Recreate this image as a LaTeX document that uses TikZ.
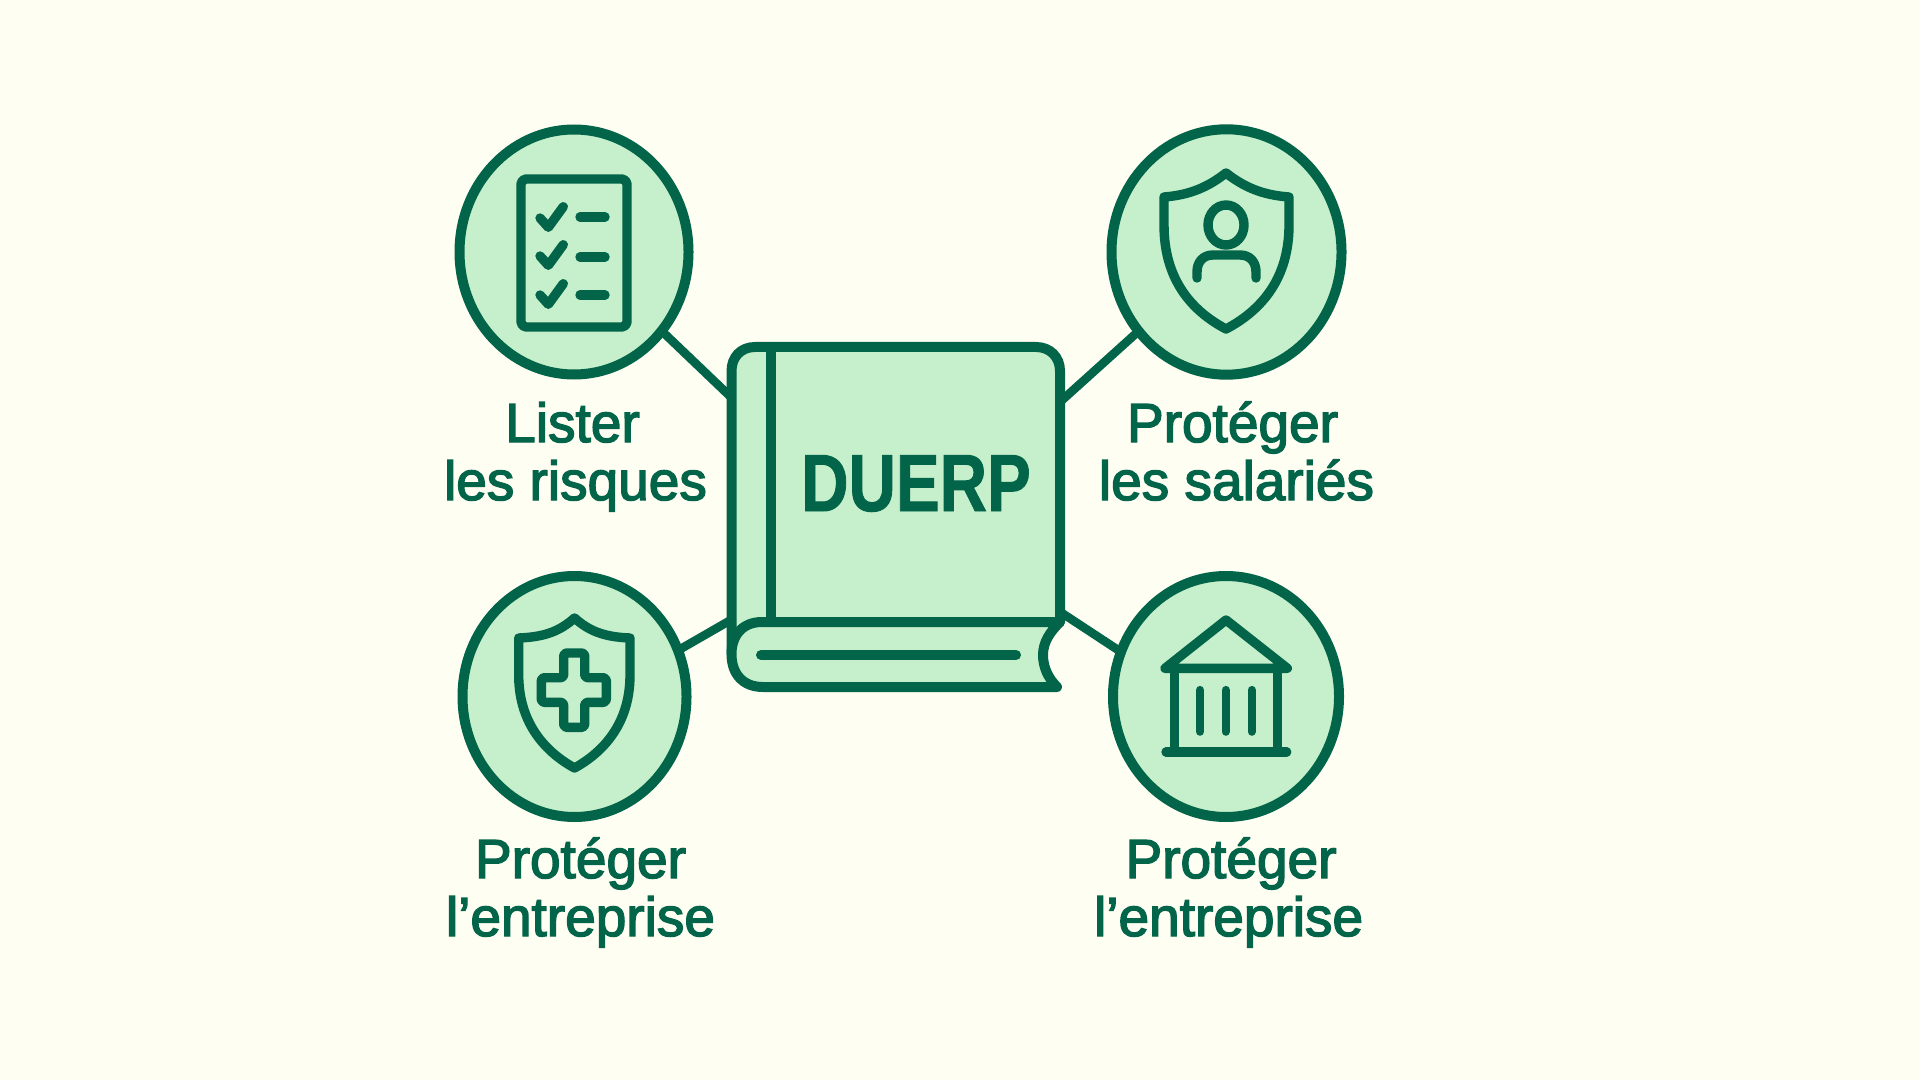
\documentclass[tikz,border=0pt]{standalone}
\usepackage{fontspec}
\usepackage{graphicx}
\usetikzlibrary{shapes.geometric,backgrounds}
\font\lablfont="Liberation Sans:embolden=2.6;mapping=tex-text" at 27.5pt
\font\titlefont="Liberation Sans Bold:embolden=1.2" at 40.5pt
\definecolor{ink}{RGB}{2,100,72}
\definecolor{leaf}{RGB}{198,239,203}
\definecolor{paper}{RGB}{255,254,243}
\tikzset{
  disc/.style={ellipse,draw=ink,fill=leaf,line width=5pt,inner sep=0pt,outer sep=0pt},
  link/.style={draw=ink,line width=4.3pt},
  icon/.style={draw=ink,line width=4.7pt,line join=round,line cap=round},
  bookline/.style={draw=ink,line width=5pt,line join=round,line cap=round},
  lab/.style={text=ink,align=center,font={\fontsize{27.5}{29}\selectfont\lablfont},inner sep=0pt},
}
\begin{document}
\begin{tikzpicture}[x=0.5pt,y=-0.5pt]
\useasboundingbox (0,0) rectangle (1920,1080);
% frame nodes
\node[disc,minimum width=114.5pt,minimum height=122.5pt] (c1) at (574,252) {};
\node[disc,minimum width=115pt,minimum height=122.7pt] (c2) at (1226.5,252) {};
\node[disc,minimum width=112pt,minimum height=120.5pt] (c3) at (574.5,696.5) {};
\node[disc,minimum width=113pt,minimum height=120.5pt] (c4) at (1226,696.5) {};
\node[inner sep=0pt,outer sep=0pt,minimum width=164.25pt,minimum height=170pt] (book) at (895.75,517) {};
\begin{scope}[on background layer]
\fill[paper] (0,0) rectangle (1920,1080);
\draw[link] (c1.-42) -- (book.144.3);
\draw[link] (c2.222.3) -- (book.35.46);
\draw[link] (c3.24.3) -- (book.212.1);
\draw[link] (c4.157) -- (book.-30.4);
\end{scope}
% book
\fill[leaf] (731.5,640) -- (731.5,371) .. controls (731.5,357) and (741,347) .. (755,347) -- (1036,347) .. controls (1050,347) and (1060,357) .. (1060,371) -- (1060,622) -- cycle;
\draw[bookline] (731.5,654) -- (731.5,371) .. controls (731.5,357) and (741,347) .. (755,347) -- (1036,347) .. controls (1050,347) and (1060,357) .. (1060,371) -- (1060,622);
\draw[bookline] (771,347) -- (771,622);
\draw[bookline,fill=leaf] (1060,622) -- (762,622) .. controls (742,622) and (731.5,636) .. (731.5,654) .. controls (731.5,674) and (743,687) .. (763,687) -- (1057,687) .. controls (1048,678) and (1043,667) .. (1043,655) .. controls (1043,642) and (1050,632) .. (1060,622);
\draw[bookline] (761,655) -- (1016,655);
\node[text=ink,inner sep=0pt,anchor=base] (title) at (916,511) {\titlefont\scalebox{0.81}[1]{DUERP}};
% icon 1: checklist
\draw[icon,rounded corners=2.5pt] (521,179) rectangle (627,327);
\draw[icon] (540,218) -- (548.3,227.3) -- (563.3,206.7);
\draw[icon] (540,256) -- (548.3,265.3) -- (563.3,244.7);
\draw[icon] (540,295) -- (548.3,304.3) -- (563.3,283.7);
\draw[icon] (580,217) -- (605,217);
\draw[icon] (580,257) -- (605,257);
\draw[icon] (580,295) -- (605,295);
% icon 2: shield with person
\draw[icon] (1226,173) .. controls (1208,187) and (1190,195) .. (1164,197) -- (1164,225) .. controls (1164,278) and (1190,310) .. (1226,329) .. controls (1262,310) and (1289,278) .. (1289,225) -- (1289,197) .. controls (1262,195) and (1244,187) .. (1226,173) -- cycle;
\draw[icon] (1226,225) ellipse [x radius=18,y radius=20];
\draw[icon] (1197,278) -- (1197,272) .. controls (1197,262) and (1203,255) .. (1213,255) -- (1240,255) .. controls (1250,255) and (1256,262) .. (1256,272) -- (1256,278);
% icon 3: shield with cross
\draw[icon] (574.5,618) .. controls (560,631) and (545,637) .. (518.7,638) -- (518.7,675) .. controls (518.7,720) and (542,750) .. (574.5,768) .. controls (607,750) and (630,720) .. (630,675) -- (630,638) .. controls (604,637) and (589,631) .. (574.5,618) -- cycle;
\draw[icon,rounded corners=1.5pt] (563.7,653) -- (584.7,653) -- (584.7,677.7) -- (606.3,677.7) -- (606.3,702.3) -- (584.7,702.3) -- (584.7,727.3) -- (563.7,727.3) -- (563.7,702.3) -- (541.3,702.3) -- (541.3,677.7) -- (563.7,677.7) -- cycle;
% icon 4: building
\draw[icon] (1165,668.3) -- (1226,620) -- (1287.3,668.3) -- cycle;
\draw[icon] (1174.3,668.3) -- (1174.3,752);
\draw[icon] (1277.7,668.3) -- (1277.7,752);
\draw[icon] (1166,752) -- (1286.7,752);
\draw[icon,line width=4.1pt] (1200,690) -- (1200,731.7);
\draw[icon,line width=4.1pt] (1225.7,690) -- (1225.7,731.7);
\draw[icon,line width=4.1pt] (1251.7,690) -- (1251.7,731.7);
% labels
\node[lab,anchor=base] (l1) at (575.5,500) {Lister\kern3pt\\les risques};
\node[lab,anchor=base] (l2) at (1236.5,500) {Protéger\kern4pt\\les salariés};
\node[lab,anchor=base] (l3) at (580.5,936) {Protéger\\l’entreprise};
\node[lab,anchor=base] (l4) at (1231,936) {Protéger\\l’entreprise\kern2.4pt};
\end{tikzpicture}
\end{document}
